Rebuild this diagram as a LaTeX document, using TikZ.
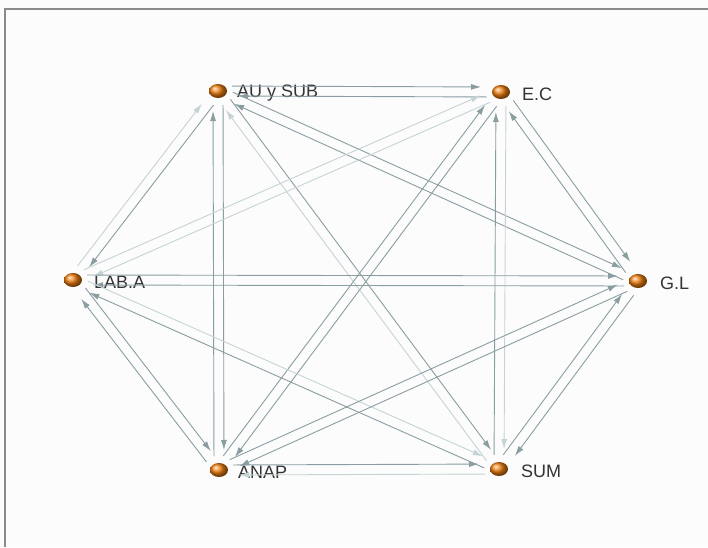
\documentclass[tikz,border=0pt]{standalone}
\usepackage{fontspec}
\setsansfont{Liberation Sans}
\usetikzlibrary{shapes.geometric, calc, arrows.meta}

\definecolor{edgedk}{HTML}{8A9EA2}
\definecolor{edgelt}{HTML}{C6D3D6}
\definecolor{framegray}{HTML}{8A8A8A}

\begin{document}
\begin{tikzpicture}[x=1pt, y=-1pt,
    ball/.style={ellipse, minimum width=18pt, minimum height=14pt, inner sep=0pt, ball color=orange!75!brown},
    tag/.style={font=\sffamily\fontsize{18}{20}\selectfont, text=black!80, anchor=west, inner sep=0pt},
    link/.style={line width=0.9pt, shorten >=20pt, shorten <=14pt},
    darkedge/.style={draw=edgedk, -{Latex[length=10pt, width=6pt, fill=edgedk]}},
    lightedge/.style={draw=edgelt, -{Latex[length=10pt, width=6pt, fill=edgelt]}}]

    \fill[black!1] (0,0) rectangle (708,547);
    \useasboundingbox (0,0) rectangle (708,547);
    \draw[framegray, line width=1.5pt] (5,547) -- (5,9) -- (708,9);

    % nodes
    \node [ball] (ausub) at (218,91) {};
    \node [ball] (ec) at (501,92) {};
    \node [ball] (laba) at (73,280) {};
    \node [ball] (gl) at (638,281) {};
    \node [ball] (anap) at (219,470) {};
    \node [ball] (sum) at (499,469) {};

    \node [tag] at ($(ausub)+(19,2)$) {AU y SUB};
    \node [tag] at ($(ec)+(21,2)$) {E.C};
    \node [tag] at ($(laba)+(21,2)$) {LAB.A};
    \node [tag] at ($(gl)+(22,2)$) {G.L};
    \node [tag] at ($(anap)+(19,2)$) {ANAP};
    \node [tag] at ($(sum)+(22,2)$) {SUM};

    % edges, one per direction
    \foreach \s/\t/\c in {ausub/ec/darkedge, ec/ausub/darkedge,
        ausub/laba/darkedge, laba/ausub/lightedge,
        ausub/anap/darkedge, anap/ausub/darkedge,
        ausub/sum/darkedge, sum/ausub/lightedge,
        ausub/gl/darkedge, gl/ausub/darkedge,
        ec/laba/lightedge, laba/ec/lightedge,
        ec/anap/darkedge, anap/ec/darkedge,
        ec/sum/lightedge, sum/ec/darkedge,
        ec/gl/darkedge, gl/ec/darkedge,
        laba/gl/darkedge, gl/laba/darkedge,
        laba/anap/darkedge, anap/laba/darkedge,
        laba/sum/lightedge, sum/laba/darkedge,
        gl/anap/darkedge, anap/gl/darkedge,
        gl/sum/darkedge, sum/gl/darkedge,
        anap/sum/darkedge, sum/anap/lightedge}
        \draw [link, \c] ($(\s)!5pt!90:(\t)$) -- ($(\t)!5pt!-90:(\s)$);
\end{tikzpicture}
\end{document}
